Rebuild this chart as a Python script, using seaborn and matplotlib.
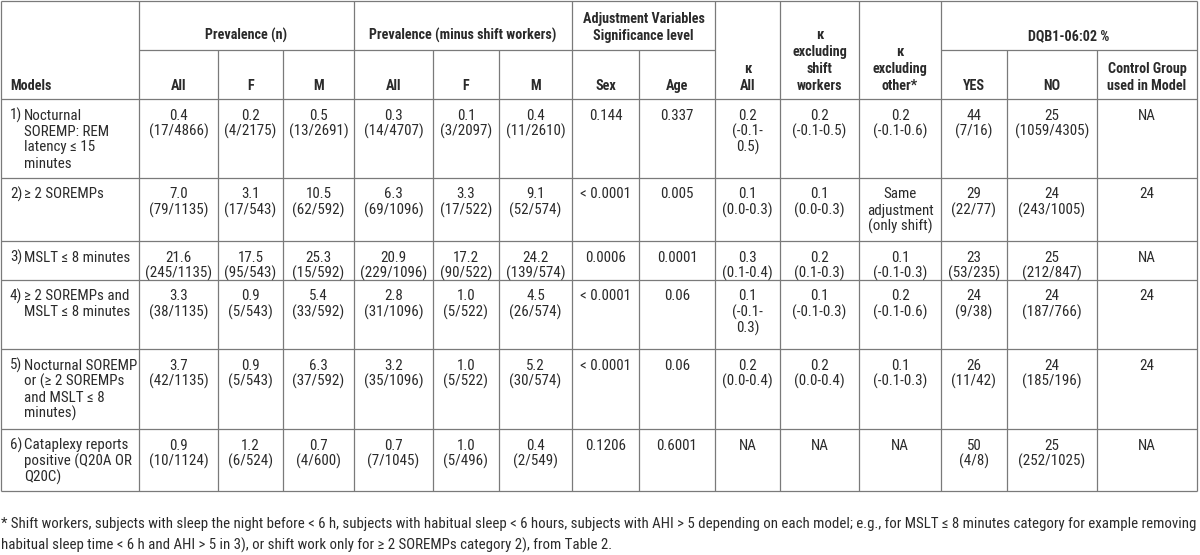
"""
Prevalence / kappa / DQB1 summary table redrawn as a figure.
"""
import os
import matplotlib
matplotlib.use("Agg")
import matplotlib.pyplot as plt
from matplotlib import font_manager
from matplotlib.font_manager import FontProperties
import seaborn as sns

# ── table contents ──────────────────────────────────────────────────────
MODEL_NUM = ["1)", "2)", "3)", "4)", "5)", "6)"]
MODEL_TEXT = [
    "Nocturnal\nSOREMP: REM\nlatency ≤ 15\nminutes",
    "≥ 2 SOREMPs",
    "MSLT ≤ 8 minutes",
    "≥ 2 SOREMPs and\nMSLT ≤ 8 minutes",
    "Nocturnal SOREMP\nor (≥ 2 SOREMPs\nand MSLT ≤ 8\nminutes)",
    "Cataplexy reports\npositive (Q20A OR\nQ20C)",
]
PREV_ALL = ["0.4\n(17/4866)", "7.0\n(79/1135)", "21.6\n(245/1135)",
            "3.3\n(38/1135)", "3.7\n(42/1135)", "0.9\n(10/1124)"]
PREV_F = ["0.2\n(4/2175)", "3.1\n(17/543)", "17.5\n(95/543)",
          "0.9\n(5/543)", "0.9\n(5/543)", "1.2\n(6/524)"]
PREV_M = ["0.5\n(13/2691)", "10.5\n(62/592)", "25.3\n(15/592)",
          "5.4\n(33/592)", "6.3\n(37/592)", "0.7\n(4/600)"]
NOSHIFT_ALL = ["0.3\n(14/4707)", "6.3\n(69/1096)", "20.9\n(229/1096)",
               "2.8\n(31/1096)", "3.2\n(35/1096)", "0.7\n(7/1045)"]
NOSHIFT_F = ["0.1\n(3/2097)", "3.3\n(17/522)", "17.2\n(90/522)",
             "1.0\n(5/522)", "1.0\n(5/522)", "1.0\n(5/496)"]
NOSHIFT_M = ["0.4\n(11/2610)", "9.1\n(52/574)", "24.2\n(139/574)",
             "4.5\n(26/574)", "5.2\n(30/574)", "0.4\n(2/549)"]
SIG_SEX = ["0.144", "< 0.0001", "0.0006", "< 0.0001", "< 0.0001", "0.1206"]
SIG_AGE = ["0.337", "0.005", "0.0001", "0.06", "0.06", "0.6001"]
KAPPA_ALL = ["0.2\n(-0.1-\n0.5)", "0.1\n(0.0-0.3)", "0.3\n(0.1-0.4)",
             "0.1\n(-0.1-\n0.3)", "0.2\n(0.0-0.4)", "NA"]
KAPPA_NOSHIFT = ["0.2\n(-0.1-0.5)", "0.1\n(0.0-0.3)", "0.2\n(0.1-0.3)",
                 "0.1\n(-0.1-0.3)", "0.2\n(0.0-0.4)", "NA"]
KAPPA_NOOTHER = ["0.2\n(-0.1-0.6)", "Same\nadjustment\n(only shift)", "0.1\n(-0.1-0.3)",
                 "0.2\n(-0.1-0.6)", "0.1\n(-0.1-0.3)", "NA"]
DQB_YES = ["44\n(7/16)", "29\n(22/77)", "23\n(53/235)",
           "24\n(9/38)", "26\n(11/42)", "50\n(4/8)"]
DQB_NO = ["25\n(1059/4305)", "24\n(243/1005)", "25\n(212/847)",
          "24\n(187/766)", "24\n(185/196)", "25\n(252/1025)"]
DQB_CONTROL = ["NA", "24", "NA", "24", "24", "NA"]

GROUP_HEADERS = ["Prevalence (n)", "Prevalence (minus shift workers)",
                 "Adjustment Variables\nSignificance level", "DQB1-06:02 %"]
SUB_HEADERS = ["All", "F", "M", "All", "F", "M", "Sex", "Age",
               "κ\nAll", "κ\nexcluding\nshift\nworkers", "κ\nexcluding\nother*",
               "YES", "NO", "Control Group\nused in Model"]
FOOTNOTE = [
    "* Shift workers, subjects with sleep the night before < 6 h, subjects with habitual sleep < 6 hours, "
    "subjects with AHI > 5 depending on each model; e.g., for MSLT ≤ 8 minutes category for example removing",
    "habitual sleep time < 6 h and AHI > 5 in 3), or shift work only for ≥ 2 SOREMPs category 2), from Table 2.",
]

# ── layout (pixels) ─────────────────────────────────────────────────────
COL_EDGES = [1, 139, 218, 283, 354, 433, 499, 572, 639, 715, 780, 859, 941, 1007, 1097, 1197]
ROW_EDGES = [99, 178, 241, 280, 349, 429, 491]
GROUP_SPANS = [(139, 354), (354, 572), (572, 715), (941, 1197)]
FULL_HEIGHT_X = [1, 139, 354, 572, 715, 780, 859, 941, 1197]
SUB_X = [218, 283, 433, 499, 639, 1007, 1097]
HEAD_MID = 50
BODY_STEP, HEAD_STEP = 16, 17

TXT = "#2a2a2a"
LINE = "#7a7a7a"


# ── font: look for a narrow sans (reference uses Arial Narrow) ──────────
def _weight(base):
    b = base.lower()
    if "italic" in b or "oblique" in b or "[" in b:
        return None
    for w in ("thin", "light", "medium", "semibold", "extrabold", "black", "demibold", "heavy"):
        if w in b:
            return None
    return "bold" if "bold" in b else "regular"


def _cond(base):
    b = base.lower()
    if "narrow" in b:
        return 0
    if "extracondensed" in b or "ultracondensed" in b:
        return 3
    if "semicondensed" in b:
        return 2
    if "condensed" in b:
        return 1
    return None


FAMILY_RANK = ["liberationsansnarrow", "arialnarrow", "notosans-", "roboto", "opensans",
               "dejavusanscondensed"]


def pick_font(weight):
    best = None
    for f in font_manager.fontManager.ttflist:
        base = os.path.basename(f.fname)
        b = base.lower().replace(" ", "")
        if "mono" in b or "serif" in b or "display" in b:
            continue
        c = _cond(base)
        if c is None or _weight(base) != weight:
            continue
        fam = next((i for i, k in enumerate(FAMILY_RANK) if b.startswith(k)), None)
        if fam is None:
            continue
        key = (fam, c)
        if best is None or key < best[0]:
            best = (key, f.fname)
    if best is None:
        fallback = FontProperties(family="Liberation Sans", weight=weight)
        return font_manager.findfont(fallback)
    return best[1]


sns.set_theme(style="white")
plt.rcParams["font.family"] = ["Liberation Sans", "DejaVu Sans"]

REG_PATH = pick_font("regular")
BOLD_PATH = pick_font("bold")

fig = plt.figure(figsize=(12, 5.55), dpi=100)
ax = fig.add_axes([0, 0, 1, 1])
ax.set_xlim(0, 1200)
ax.set_ylim(555, 0)
ax.axis("off")
renderer = fig.canvas.get_renderer()


def fitted(path, sample, target_px):
    fp = FontProperties(fname=path, size=10)
    t = ax.text(0, 0, sample, fontproperties=fp)
    w = t.get_window_extent(renderer).width
    t.remove()
    return FontProperties(fname=path, size=10 * target_px / w)


FP_BODY = fitted(REG_PATH, "Nocturnal SOREMP", 113)
FP_HEAD = fitted(BOLD_PATH, "Prevalence (minus shift workers)", 187)


def put(x, baseline, text, step, fp, ha="center", anchor="top"):
    lines = text.split("\n")
    if anchor == "bottom":
        baseline = baseline - step * (len(lines) - 1)
    for i, line in enumerate(lines):
        ax.text(x, baseline + i * step, line, ha=ha, va="baseline",
                fontproperties=fp, color=TXT)


# grid lines
ax.hlines([1] + ROW_EDGES, 1, 1197, color=LINE, lw=0.9)
for x0, x1 in GROUP_SPANS:
    ax.hlines(HEAD_MID, x0, x1, color=LINE, lw=0.9)
ax.vlines(FULL_HEIGHT_X, 1, ROW_EDGES[-1], color=LINE, lw=0.9)
ax.vlines(SUB_X, HEAD_MID, ROW_EDGES[-1], color=LINE, lw=0.9)

# header
put(10, 90, "Models", HEAD_STEP, FP_HEAD, ha="left", anchor="bottom")
for (x0, x1), label in zip(GROUP_SPANS, GROUP_HEADERS):
    put((x0 + x1) / 2, 40, label, HEAD_STEP, FP_HEAD, anchor="bottom")
for i, label in enumerate(SUB_HEADERS):
    xc = (COL_EDGES[i + 1] + COL_EDGES[i + 2]) / 2
    put(xc, 90, label, HEAD_STEP, FP_HEAD, anchor="bottom")

# body
columns = [PREV_ALL, PREV_F, PREV_M, NOSHIFT_ALL, NOSHIFT_F, NOSHIFT_M,
           SIG_SEX, SIG_AGE, KAPPA_ALL, KAPPA_NOSHIFT, KAPPA_NOOTHER,
           DQB_YES, DQB_NO, DQB_CONTROL]
for r in range(len(MODEL_NUM)):
    base = ROW_EDGES[r] + 20.5
    put(10, base, MODEL_NUM[r], BODY_STEP, FP_BODY, ha="left")
    put(24, base, MODEL_TEXT[r], BODY_STEP, FP_BODY, ha="left")
    for c, col in enumerate(columns):
        xc = (COL_EDGES[c + 1] + COL_EDGES[c + 2]) / 2
        put(xc, base, col[r], BODY_STEP, FP_BODY)

# footnote, stretched to the table width
notes = [ax.text(1, y, line, ha="left", va="baseline", fontproperties=FP_BODY, color=TXT)
         for y, line in zip([528, 550], FOOTNOTE)]
w = notes[0].get_window_extent(renderer).width
for t in notes:
    t.set_fontproperties(FontProperties(fname=REG_PATH, size=FP_BODY.get_size() * 1195 / w))

fig.savefig("out.png", dpi=100)
plt.close(fig)
